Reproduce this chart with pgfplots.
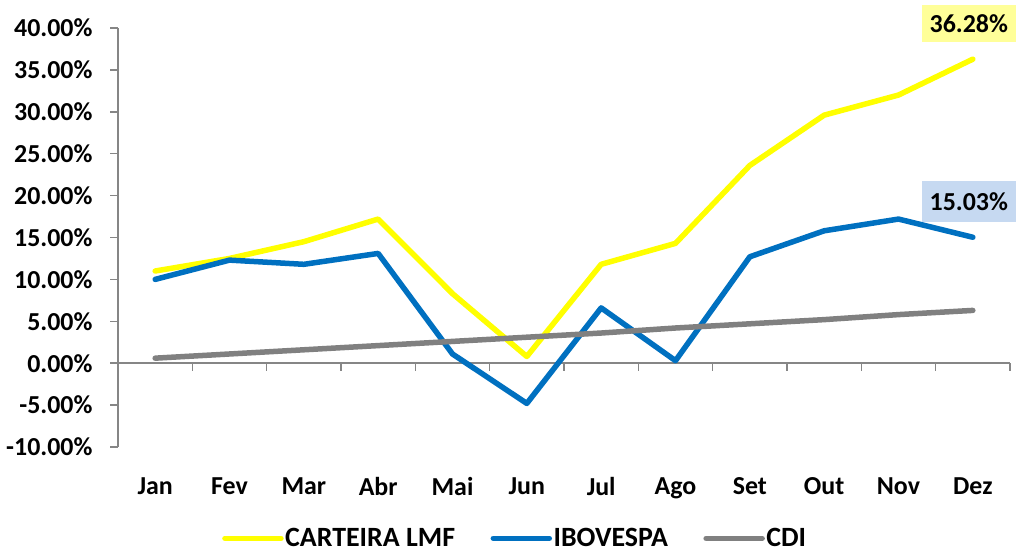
\documentclass[border=0pt]{standalone}
\usepackage{pgfplots}
\pgfplotsset{compat=1.18}
\usepackage{fontspec}
\setmainfont{Carlito}
\definecolor{cyel}{HTML}{FFFF00}
\definecolor{cblue}{HTML}{0070C0}
\definecolor{cgray}{HTML}{808080}
\definecolor{axgray}{HTML}{868686}
\definecolor{lblyel}{HTML}{FFFF99}
\definecolor{lblblue}{HTML}{C6D9F1}
\newcommand{\bigf}{\bfseries\fontsize{26}{30}\selectfont}
\newcommand{\legf}{\bfseries\fontsize{28}{32}\selectfont}
\begin{document}
\begin{tikzpicture}
\begin{axis}[
  at={(118bp,107bp)}, anchor=south west,
  scale only axis, width=892bp, height=419bp,
  xmin=-0.5, xmax=11.5, ymin=-10, ymax=40,
  axis y line=left, axis x line=bottom,
  axis line style={-, axgray, line width=1.5bp},
  x axis line style={draw=none},
  xtick={0,...,11},
  xticklabels={Jan,Fev,Mar,Abr,Mai,Jun,Jul,Ago,Set,Out,Nov,Dez},
  x tick style={draw=none},
  xticklabel style={yshift=-19bp},
  ytick={-10,-5,...,40},
  yticklabel={\pgfmathprintnumber[fixed,fixed zerofill,precision=2]{\tick}\%},
  y tick style={axgray, line width=1.5bp},
  tick align=outside, major tick length=8bp,
  yticklabel style={xshift=-14bp},
  /pgf/number format/assume math mode=true,
  tick label style={font=\bigf},
  clip=false,
  legend style={at={(0.445,-0.218)}, anchor=center, draw=none, fill=none,
    legend columns=3, font=\legf,
    /tikz/every even column/.append style={column sep=34bp},
    nodes={inner sep=1.5bp}},
  legend image code/.code={\draw[#1, line cap=round] (0bp,0bp) -- (56bp,0bp);},
  every axis plot/.append style={line width=5.5bp, line cap=round, line join=round},
]
\draw[axgray, line width=1.5bp] (axis cs:-0.5,0) -- (axis cs:11.5,0);
\pgfplotsinvokeforeach{0.5,1.5,2.5,3.5,4.5,5.5,6.5,7.5,8.5,9.5,10.5,11.5}{
  \draw[axgray, line width=1.5bp] (axis cs:#1,0) -- ([yshift=-8bp]axis cs:#1,0);
}
\addplot[cyel] coordinates {(0,11.0) (1,12.5) (2,14.5) (3,17.2) (4,8.3) (5,0.8) (6,11.8) (7,14.3) (8,23.6) (9,29.6) (10,32.0) (11,36.28)};
\addlegendentry{CARTEIRA LMF}
\addplot[cblue] coordinates {(0,10.0) (1,12.3) (2,11.8) (3,13.1) (4,1.1) (5,-4.8) (6,6.6) (7,0.3) (8,12.7) (9,15.8) (10,17.2) (11,15.03)};
\addlegendentry{IBOVESPA}
\addplot[cgray] coordinates {(0,0.6) (1,1.1) (2,1.6) (3,2.1) (4,2.6) (5,3.1) (6,3.6) (7,4.2) (8,4.7) (9,5.2) (10,5.8) (11,6.3)};
\addlegendentry{CDI}
\node[fill=lblyel, font=\bigf, inner xsep=8bp, minimum height=37bp, anchor=center, xshift=-4bp, yshift=36bp] at (axis cs:11,36.28) {36.28\%};
\node[fill=lblblue, font=\bigf, inner xsep=8bp, minimum height=41bp, anchor=center, xshift=-4bp, yshift=36bp] at (axis cs:11,15.03) {15.03\%};
\end{axis}
\pgfresetboundingbox
\useasboundingbox (0,0) rectangle (1021bp,554bp);
\end{tikzpicture}
\end{document}
